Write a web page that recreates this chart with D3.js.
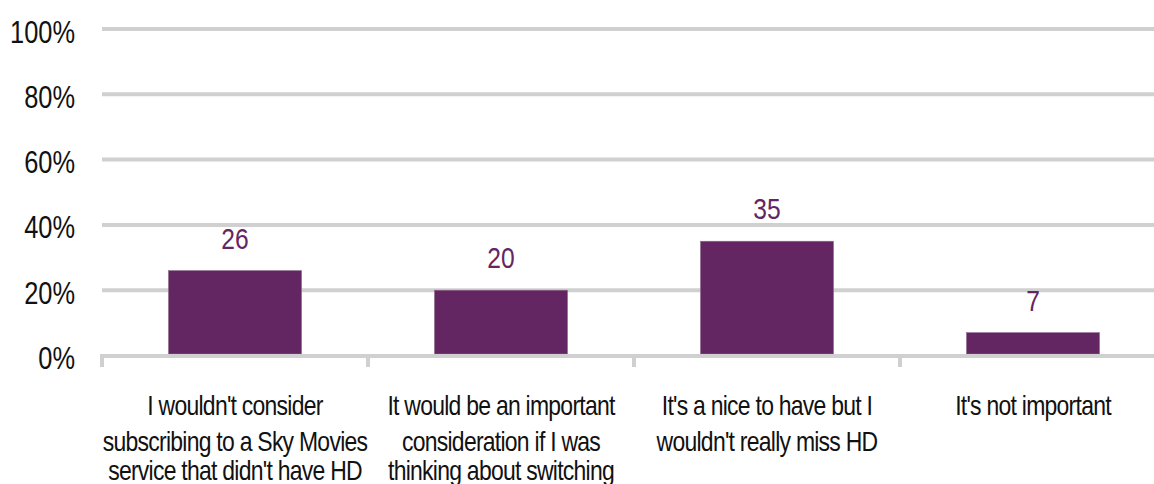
<!DOCTYPE html>
<html>
<head>
<meta charset="utf-8">
<script src="https://cdn.jsdelivr.net/npm/d3@7"></script>
<style>
  html, body { margin: 0; padding: 0; background: #fff; }
  svg { display: block; }
  text { font-family: "Liberation Sans", Arial, sans-serif; }
</style>
</head>
<body>
<svg id="chart" width="1154" height="484"></svg>
<script>
// Survey responses: importance of HD for Sky Movies subscribers (%)
const categories = [
  ["I wouldn't consider", "subscribing to a Sky Movies", "service that didn't have HD"],
  ["It would be an important", "consideration if I was", "thinking about switching"],
  ["It's a nice to have but I", "wouldn't really miss HD"],
  ["It's not important"]
];
const values = [26, 20, 35, 7];
const yTicks = [0, 20, 40, 60, 80, 100];

const svg = d3.select("#chart");
const purple = "#632662";
const grid = "#d0d0d0";
// condensed lettering, as in a narrow sans face
const narrow = 0.82;
const at = (px, py) => `translate(${px},${py}) scale(${narrow},1)`;

const x = d3.scaleBand()
  .domain(d3.range(values.length))
  .range([102, 1166])
  .paddingInner(0.5)
  .paddingOuter(0.25);

const y = d3.scaleLinear().domain([0, 100]).range([355.5, 29]);

// Horizontal gridlines
svg.append("g").selectAll("line")
  .data(yTicks.filter(d => d > 0))
  .join("line")
  .attr("x1", 102).attr("x2", 1154)
  .attr("y1", d => y(d)).attr("y2", d => y(d))
  .attr("stroke", grid).attr("stroke-width", 4);

// Y-axis labels
svg.append("g").selectAll("text")
  .data(yTicks)
  .join("text")
  .attr("transform", d => at(75, y(d) + 13.5))
  .attr("text-anchor", "end")
  .attr("font-size", 31)
  .attr("fill", "#111")
  .text(d => d + "%");

// Bars
svg.append("g").selectAll("rect")
  .data(values)
  .join("rect")
  .attr("x", (d, i) => x(i))
  .attr("width", x.bandwidth())
  .attr("y", d => y(d))
  .attr("height", d => y(0) - y(d) - 1.5)
  .attr("fill", purple)
  .attr("stroke", "#8d6a8c")
  .attr("stroke-width", 0.6);

// Baseline and category separators
const base = svg.append("g");
base.append("line")
  .attr("x1", 100).attr("x2", 1154)
  .attr("y1", y(0) + 0.5).attr("y2", y(0) + 0.5)
  .attr("stroke", grid).attr("stroke-width", 4);
const step = x.step();
base.selectAll("line.tick")
  .data(d3.range(values.length + 1))
  .join("line")
  .attr("class", "tick")
  .attr("x1", i => 102 + i * step).attr("x2", i => 102 + i * step)
  .attr("y1", y(0)).attr("y2", y(0) + 11.5)
  .attr("stroke", grid).attr("stroke-width", 4);

// Value labels
svg.append("g").selectAll("text")
  .data(values)
  .join("text")
  .attr("transform", (d, i) => at(x(i) + x.bandwidth() / 2, y(d) - 22))
  .attr("text-anchor", "middle")
  .attr("font-size", 30)
  .attr("fill", purple)
  .text(d => d);

// Category labels
const lineOffsets = [0, 36, 65];
svg.append("g").selectAll("text")
  .data(categories)
  .join("text")
  .attr("transform", (d, i) => at(x(i) + x.bandwidth() / 2, 415))
  .attr("text-anchor", "middle")
  .attr("font-size", 28)
  .attr("letter-spacing", -0.9)
  .attr("fill", "#111")
  .each(function (lines) {
    d3.select(this).selectAll("tspan")
      .data(lines)
      .join("tspan")
      .attr("x", 0)
      .attr("y", (d, j) => lineOffsets[j])
      .text(d => d);
  });
</script>
</body>
</html>
